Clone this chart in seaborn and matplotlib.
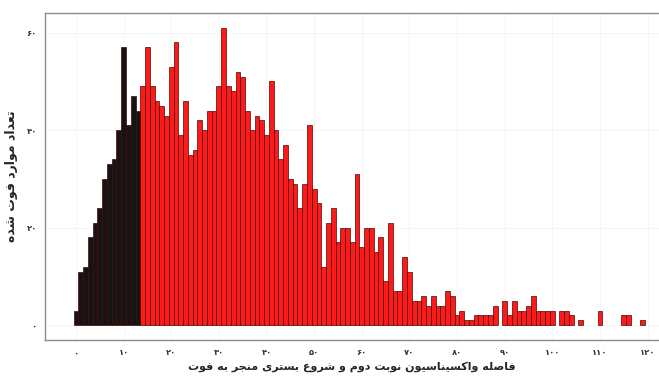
import matplotlib as mpl
mpl.use('Agg')
import matplotlib.pyplot as plt
import seaborn as sns
import pandas as pd
import numpy as np

"""
Histogram: days between 2nd vaccine dose and hospitalisation leading to death
"""

# data
DAYS = list(range(120))
COUNTS = [3, 11, 12, 18, 21, 24, 30, 33, 34, 40,
          57, 41, 47, 44, 49, 57, 49, 46, 45, 43,
          53, 58, 39, 46, 35, 36, 42, 40, 44, 44,
          49, 61, 49, 48, 52, 51, 44, 40, 43, 42,
          39, 50, 40, 34, 37, 30, 29, 24, 29, 41,
          28, 25, 12, 21, 24, 17, 20, 20, 17, 31,
          16, 20, 20, 15, 18, 9, 21, 7, 7, 14,
          11, 5, 5, 6, 4, 6, 4, 4, 7, 6,
          2, 3, 1, 1, 2, 2, 2, 2, 4, 0,
          5, 2, 5, 3, 3, 4, 6, 3, 3, 3,
          3, 0, 3, 3, 2, 0, 1, 0, 0, 0,
          3, 0, 0, 0, 0, 2, 2, 0, 0, 1]
LAST_EARLY_DAY = 13
X_TICKS = list(range(0, 121, 10))
Y_TICKS = [0, 20, 40, 60]

X_LABEL = "فاصله واکسیناسیون نوبت دوم و شروع بستری منجر به فوت"
Y_LABEL = "تعداد موارد فوت شده"

# isolated, final, initial, medial presentation forms
FORMS = {
    'ا': ('\uFE8D', '\uFE8E', None, None),
    'ب': ('\uFE8F', '\uFE90', '\uFE91', '\uFE92'),
    'ت': ('\uFE95', '\uFE96', '\uFE97', '\uFE98'),
    'ج': ('\uFE9D', '\uFE9E', '\uFE9F', '\uFEA0'),
    'د': ('\uFEA9', '\uFEAA', None, None),
    'ر': ('\uFEAD', '\uFEAE', None, None),
    'س': ('\uFEB1', '\uFEB2', '\uFEB3', '\uFEB4'),
    'ش': ('\uFEB5', '\uFEB6', '\uFEB7', '\uFEB8'),
    'ص': ('\uFEB9', '\uFEBA', '\uFEBB', '\uFEBC'),
    'ع': ('\uFEC9', '\uFECA', '\uFECB', '\uFECC'),
    'ف': ('\uFED1', '\uFED2', '\uFED3', '\uFED4'),
    'ک': ('\uFB8E', '\uFB8F', '\uFB90', '\uFB91'),
    'ل': ('\uFEDD', '\uFEDE', '\uFEDF', '\uFEE0'),
    'م': ('\uFEE1', '\uFEE2', '\uFEE3', '\uFEE4'),
    'ن': ('\uFEE5', '\uFEE6', '\uFEE7', '\uFEE8'),
    'ه': ('\uFEE9', '\uFEEA', '\uFEEB', '\uFEEC'),
    'و': ('\uFEED', '\uFEEE', None, None),
    'ی': ('\uFBFC', '\uFBFD', '\uFBFE', '\uFBFF'),
}


def rtl(text):
    # matplotlib does no arabic shaping, so do it by hand and reverse
    out = []
    for i, ch in enumerate(text):
        if ch not in FORMS:
            out.append(ch)
            continue
        prev = text[i - 1] if i > 0 else None
        nxt = text[i + 1] if i + 1 < len(text) else None
        join_prev = prev in FORMS and FORMS[prev][2] is not None
        join_next = nxt in FORMS and FORMS[ch][2] is not None
        iso, fin, ini, med = FORMS[ch]
        if join_prev and join_next:
            out.append(med)
        elif join_prev:
            out.append(fin)
        elif join_next:
            out.append(ini)
        else:
            out.append(iso)
    return ''.join(out)[::-1]


def fa_num(n):
    return str(n).translate(str.maketrans('0123456789', '۰۱۲۳۴۵۶۷۸۹'))


sns.set_style('white')
plt.rcParams['font.family'] = ['DejaVu Sans']

df = pd.DataFrame({'day': DAYS, 'count': COUNTS})
df = df[df['count'] > 0]
df['group'] = np.where(df['day'] <= LAST_EARLY_DAY, 'early', 'late')

fig = plt.figure(figsize=(6.59, 3.76), dpi=100)
ax = fig.add_axes([45 / 659, 36 / 376, 614 / 659, 327 / 376])

sns.histplot(data=df, x='day', weights='count', hue='group', discrete=True,
             common_bins=False, multiple='layer', alpha=1,
             palette={'early': '#141414', 'late': '#ff1a1a'},
             edgecolor='#4a0606', linewidth=0.5, legend=False, ax=ax)

# empty bins would leave a flat outline on the baseline
for p in ax.patches:
    if p.get_height() == 0:
        p.set_visible(False)

ax.set_xlim(-6.5, 122.4)
ax.set_ylim(-3.05, 64.05)
ax.set_xticks(X_TICKS)
ax.set_xticklabels([fa_num(t) for t in X_TICKS])
ax.set_yticks(Y_TICKS)
ax.set_yticklabels([fa_num(t) for t in Y_TICKS])

ax.grid(True, color='#f4f4f4', linewidth=0.6)
ax.set_axisbelow(True)
for side in ['left', 'top', 'bottom']:
    ax.spines[side].set_color('#8a8a8a')
    ax.spines[side].set_linewidth(1.0)
ax.spines['right'].set_visible(False)
ax.tick_params(direction='out', length=3, width=0.8, color='#8a8a8a',
               labelsize=6, pad=3, labelcolor='#333333')
for lab in ax.get_xticklabels() + ax.get_yticklabels():
    lab.set_fontweight('bold')

ax.set_xlabel(rtl(X_LABEL), fontsize=8, fontweight='bold', labelpad=3)
ax.set_ylabel(rtl(Y_LABEL), fontsize=9, fontweight='bold', labelpad=6)

fig.savefig('out.png', dpi=100)
